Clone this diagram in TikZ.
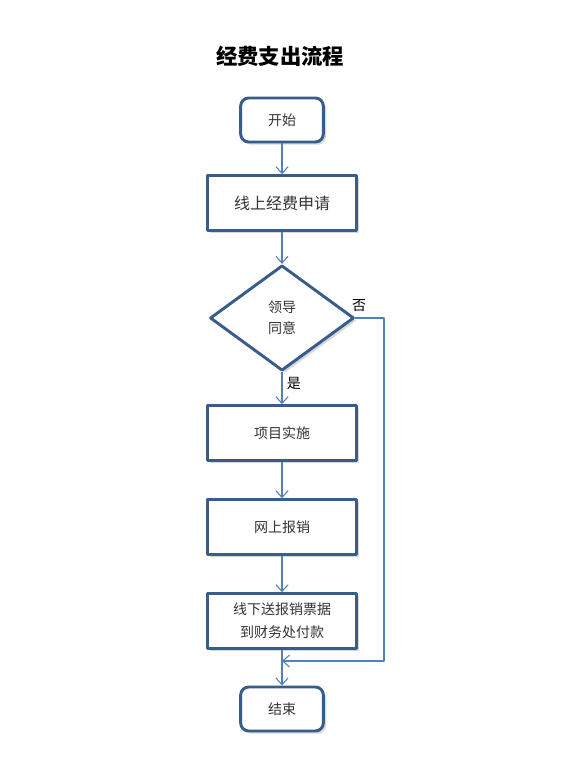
\documentclass[tikz,border=0pt]{standalone}
\usepackage{fontspec}
\setmainfont{Noto Sans CJK SC}
\usetikzlibrary{shapes.geometric,shadows,arrows.meta}
\definecolor{boxline}{HTML}{385D8A}
\definecolor{arrline}{HTML}{4F81BD}
\begin{document}
\begin{tikzpicture}[x=0.75pt,y=-0.75pt,line join=round,font=\fontsize{10.5pt}{13pt}\selectfont,
  every node/.style={text=black!80},
  base/.style={draw=boxline,line width=2.2pt,fill=white,
    drop shadow={shadow xshift=2pt,shadow yshift=-2pt,fill=black!30}},
  term/.style={base,rectangle,rounded corners=6pt,minimum width=62pt,minimum height=33pt},
  proc/.style={base,rectangle,minimum width=112pt,minimum height=41pt,align=center},
  ask/.style={base,diamond,inner sep=0pt,minimum width=108pt,minimum height=79pt,align=center},
  flow/.style={draw=arrline,line width=0.8pt,-{Straight Barb[length=5pt,width=9pt]}}]
  \useasboundingbox (0,0) rectangle (583,780);
  \node[font=\fontsize{16pt}{19pt}\selectfont\bfseries,text=black] (title) at (280,56) {经费支出流程};
  \node[term] (start) at (282,120) {开始};
  \node[proc,font=\fontsize{12pt}{14pt}\selectfont] (apply) at (282,203) {线上经费申请};
  \node[ask] (lead) at (282,318) {领导\\[3pt]同意};
  \node[proc] (work) at (282,433) {项目实施};
  \node[proc] (online) at (282,527) {网上报销};
  \node[proc] (offline) at (282,621) {线下送报销票据\\[4pt]到财务处付款};
  \node[term] (stop) at (282,709) {结束};
  \coordinate (join) at (282,661);
  \coordinate (side) at (384,661);
  \draw[flow] (start) -- (apply);
  \draw[flow] (apply) -- (lead);
  \draw[flow] (lead) -- node[right,pos=0.35,text=black] {是} (work);
  \draw[flow] (work) -- (online);
  \draw[flow] (online) -- (offline);
  \draw[flow] (offline) -- (stop);
  \draw[flow] (lead.east) -| (side) -- (join);
  \node[text=black] (no) at (359,306) {否};
\end{tikzpicture}
\end{document}
